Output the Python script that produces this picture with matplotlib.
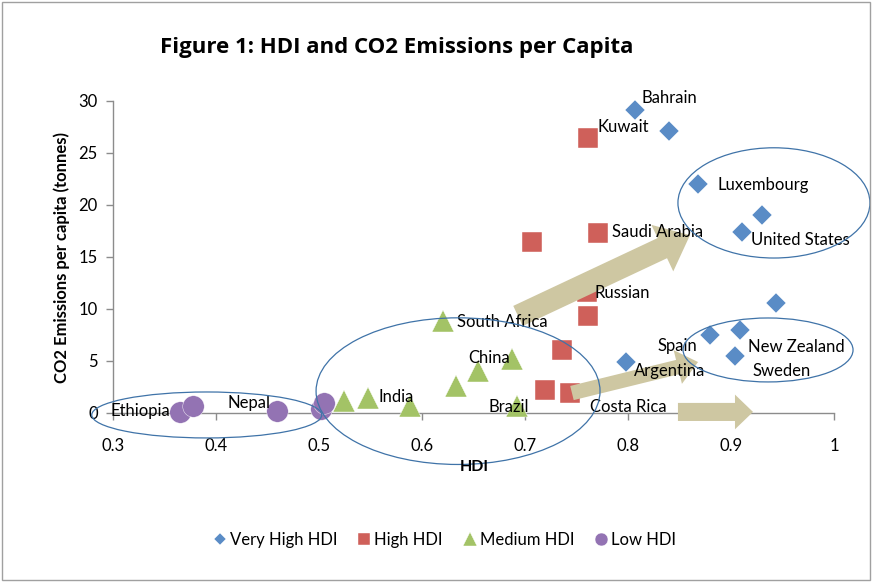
import numpy as np
import matplotlib
matplotlib.use("Agg")
import matplotlib.pyplot as plt
from matplotlib.patches import Ellipse, FancyArrowPatch, Rectangle

plt.rcParams['font.family'] = ['Lato', 'DejaVu Sans']

# data (HDI, CO2 tonnes per capita)
very_high_hdi = [0.807, 0.840, 0.868, 0.930, 0.911, 0.944, 0.880, 0.909, 0.904, 0.798]
very_high_co2 = [29.1, 27.1, 22.0, 19.0, 17.4, 10.6, 7.5, 8.0, 5.5, 4.9]
high_hdi = [0.761, 0.771, 0.707, 0.760, 0.761, 0.736, 0.719, 0.744]
high_co2 = [26.4, 17.3, 16.4, 11.6, 9.3, 6.1, 2.2, 1.9]
medium_hdi = [0.620, 0.687, 0.654, 0.633, 0.524, 0.548, 0.588, 0.692]
medium_co2 = [8.8, 5.2, 4.0, 2.6, 1.2, 1.4, 0.7, 0.7]
low_hdi = [0.365, 0.378, 0.459, 0.502, 0.505]
low_co2 = [0.1, 0.7, 0.2, 0.4, 1.0]

# country labels: (text, x, y) with text anchored left-centre
labels = [
    ("Bahrain", 0.8136, 30.3), ("Kuwait", 0.770, 27.5),
    ("Luxembourg", 0.887, 21.9), ("United States", 0.919, 16.6),
    ("Saudi Arabia", 0.784, 17.4), ("Russian", 0.767, 11.5),
    ("South Africa", 0.634, 8.75), ("China", 0.645, 5.3),
    ("India", 0.558, 1.55), ("Brazil", 0.665, 0.55),
    ("Costa Rica", 0.763, 0.6), ("Spain", 0.829, 6.4),
    ("Argentina", 0.806, 4.0), ("New Zealand", 0.917, 6.35),
    ("Sweden", 0.921, 4.0), ("Ethiopia", 0.298, 0.2),
    ("Nepal", 0.411, 0.95),
]

blue = '#5A8CC6'
red = '#CF605A'
green = '#A3C366'
purple = '#9373B3'
beige = '#CEC7A2'
ring = '#3F73A8'
axis_grey = '#8C8C8C'

fig = plt.figure(figsize=(8.72, 5.82), dpi=100)
ax = fig.add_axes([0.1296, 0.2904, 0.8268, 0.5361])

ax.plot(very_high_hdi, very_high_co2, 'D', ms=10.5, color=blue, mec='white', mew=0.3,
        label='Very High HDI', clip_on=False, zorder=3)
ax.plot(high_hdi, high_co2, 's', ms=15, color=red, mec='white', mew=0.3,
        label='High HDI', clip_on=False, zorder=3)
ax.plot(medium_hdi, medium_co2, '^', ms=16, color=green, mec='white', mew=0.3,
        label='Medium HDI', clip_on=False, zorder=3)
ax.plot(low_hdi, low_co2, 'o', ms=15.5, color=purple, mec='white', mew=0.3,
        label='Low HDI', clip_on=False, zorder=3)

for txt, x, y in labels:
    ax.text(x, y, txt, fontsize=12, ha='left', va='center', zorder=5, clip_on=False)

# ellipses around groups
for cx, cy, w, h in [(0.391, -0.19, 0.2233, 4.42), (0.635, 2.1, 0.2757, 14.1),
                     (0.9417, 20.2, 0.1864, 10.6), (0.936, 6.06, 0.165, 6.15)]:
    ax.add_patch(Ellipse((cx, cy), w, h, fill=False, ec=ring, lw=0.9,
                         clip_on=False, zorder=6))

# arrows
for (x0, y0), (x1, y1), style in [
        ((0.6932, 9.33), (0.8602, 17.1), 'simple,head_length=22,head_width=37,tail_width=16'),
        ((0.7456, 1.92), (0.868, 4.9), 'simple,head_length=15,head_width=25,tail_width=10.5'),
        ((0.8485, 0.1), (0.9214, 0.1), 'simple,head_length=13,head_width=25,tail_width=13')]:
    ax.add_patch(FancyArrowPatch((x0, y0), (x1, y1), arrowstyle=style, mutation_scale=1,
                                 color=beige, lw=0, shrinkA=0, shrinkB=0,
                                 clip_on=False, zorder=4))

ax.set_xlim(0.3, 1.0)
ax.set_ylim(0, 30)
ax.set_xticks([0.3, 0.4, 0.5, 0.6, 0.7, 0.8, 0.9, 1.0])
ax.set_xticklabels(['0.3', '0.4', '0.5', '0.6', '0.7', '0.8', '0.9', '1'])
ax.set_yticks(range(0, 31, 5))
ax.tick_params(axis='both', labelsize=12, color=axis_grey, length=5, width=1)
ax.tick_params(axis='x', pad=13)
ax.tick_params(axis='y', pad=6)
for s in ['top', 'right']:
    ax.spines[s].set_visible(False)
for s in ['left', 'bottom']:
    ax.spines[s].set_color(axis_grey)
    ax.spines[s].set_linewidth(1)

fig.text(0.455, 0.919, 'Figure 1: HDI and CO2 Emissions per Capita', fontsize=16,
         fontweight='bold', ha='center', va='center', family=['Open Sans', 'DejaVu Sans'])
fig.text(0.071, 0.558, 'CO2 Emissions per capita (tonnes)', fontsize=12,
         fontweight='bold', rotation=90, ha='center', va='center')
fig.text(0.5436, 0.1976, 'HDI', fontsize=11.5, fontweight='bold', ha='center', va='center')

fig.legend(loc='center', bbox_to_anchor=(0.51, 0.072), ncol=4, frameon=False,
           fontsize=12, markerscale=0.6, handlelength=0.8, handletextpad=0.2,
           columnspacing=1.2)

fig.add_artist(Rectangle((0.002, 0.003), 0.996, 0.994, transform=fig.transFigure,
                         fill=False, ec='#A0A0A0', lw=1))

fig.savefig('out.png', dpi=100)
